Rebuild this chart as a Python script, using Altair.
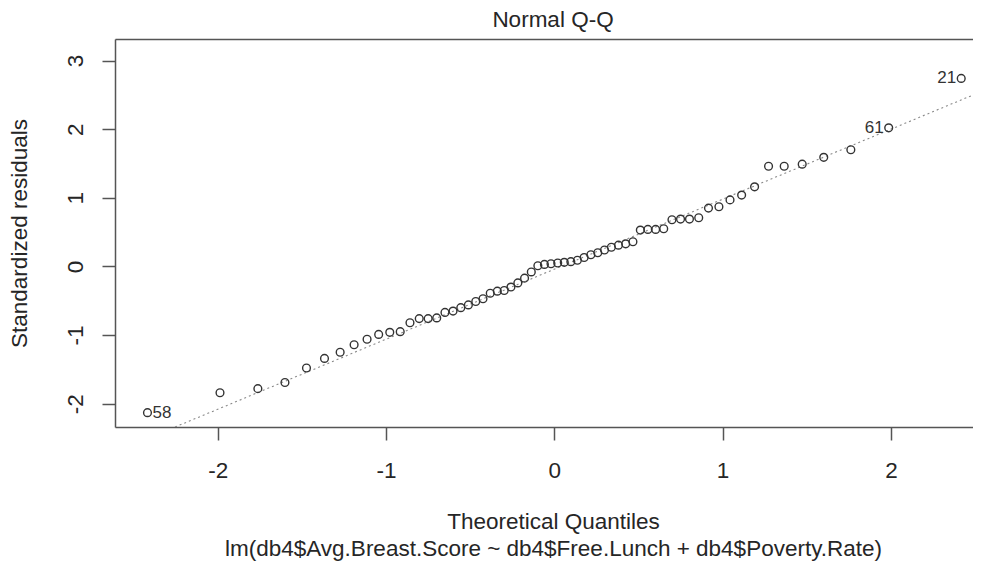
import altair as alt
import pandas as pd

# Theoretical normal quantiles (n = 64), read from the x positions of the points
theoretical = [
    -2.418, -1.987, -1.762, -1.601, -1.473, -1.366, -1.273, -1.190, -1.113, -1.044,
    -0.978, -0.916, -0.858, -0.803, -0.750, -0.699, -0.650, -0.602, -0.556, -0.511,
    -0.467, -0.424, -0.381, -0.339, -0.298, -0.258, -0.217, -0.177, -0.137, -0.098,
    -0.059, -0.020, 0.020, 0.059, 0.098, 0.137, 0.177, 0.217, 0.258, 0.298,
    0.339, 0.381, 0.424, 0.467, 0.511, 0.556, 0.602, 0.650, 0.699, 0.750,
    0.803, 0.858, 0.916, 0.978, 1.044, 1.113, 1.190, 1.273, 1.366, 1.473,
    1.601, 1.762, 1.987, 2.418,
]

# Sorted standardized residuals
residuals = [
    -2.13, -1.84, -1.78, -1.69, -1.48, -1.34, -1.25, -1.14, -1.06, -0.99,
    -0.96, -0.95, -0.82, -0.76, -0.76, -0.75, -0.67, -0.65, -0.60, -0.56,
    -0.51, -0.47, -0.39, -0.36, -0.35, -0.30, -0.24, -0.17, -0.08, 0.01,
    0.03, 0.04, 0.05, 0.06, 0.07, 0.09, 0.13, 0.17, 0.20, 0.24,
    0.28, 0.31, 0.33, 0.36, 0.53, 0.54, 0.54, 0.55, 0.68, 0.69,
    0.69, 0.71, 0.85, 0.87, 0.97, 1.04, 1.16, 1.46, 1.46, 1.49,
    1.59, 1.70, 2.02, 2.74,
]

# Observation ids shown next to the extreme points
labels = [""] * 64
labels[0] = "58"
labels[62] = "61"
labels[63] = "21"
label_side = ["right" if i == 0 else "left" for i in range(64)]

# qqline parameters (intercept, slope)
qq_intercept = -0.04
qq_slope = 1.02
line_ends = [-2.611, 2.488]

df = pd.DataFrame({"q": theoretical, "r": residuals, "id": labels, "side": label_side})
line_df = pd.DataFrame({"x": line_ends})

TXT = "#262626"
AX = "#555555"
FONT = "Liberation Sans"
FS = 22.5

xscale = alt.Scale(domain=[-2.611, 2.488], nice=False, zero=False)
yscale = alt.Scale(domain=[-2.339, 3.314], nice=False, zero=False)

yenc = alt.Y(
    "r:Q", scale=yscale,
    axis=alt.Axis(
        values=[-2, -1, 0, 1, 2, 3], title="Standardized residuals", grid=False,
        labelExpr="'' + datum.value", labelAngle=270, labelAlign="center",
        labelBaseline="middle", labelPadding=27, labelFontSize=FS, labelColor=TXT,
        labelFont=FONT, tickSize=13, tickColor=AX, tickWidth=1.5,
        domainColor=AX, domainWidth=1.5, titleFont=FONT, titleFontSize=FS,
        titleFontWeight="normal", titleColor=TXT,
        titleX=-96, titleY=194, titleAngle=270, titleAlign="center",
        titleBaseline="middle",
    ),
)

points = alt.Chart(df).mark_point(
    shape="circle", filled=False, size=60, strokeWidth=1.4, color="#333333", opacity=1
).encode(
    x=alt.X(
        "q:Q", scale=xscale,
        axis=alt.Axis(
            values=[-2, -1, 0, 1, 2], grid=False, labelExpr="'' + datum.value",
            labelFontSize=FS, labelColor=TXT, labelFont=FONT, labelPadding=19,
            labelBaseline="top",
            tickSize=13, tickColor=AX, tickWidth=1.5, domainColor=AX, domainWidth=1.5,
            title=["Theoretical Quantiles",
                   "lm(db4$Avg.Breast.Score ~ db4$Free.Lunch + db4$Poverty.Rate)"],
            titleFont=FONT, titleFontSize=FS, titleFontWeight="normal", titleColor=TXT,
            titleLineHeight=27.7, titleBaseline="top", titleY=83, titleX=438,
            titleAlign="center",
        ),
    ),
    y=yenc,
)

qqline = alt.Chart(line_df).transform_calculate(
    y=f"{qq_intercept} + {qq_slope} * datum.x"
).mark_line(
    color="#8a8a8a", strokeWidth=1.1, strokeDash=[2, 3], clip=True
).encode(
    x=alt.X(
        "x:Q", scale=xscale,
        axis=alt.Axis(orient="top", labels=False, ticks=False, title=None, grid=False,
                      domainColor=AX, domainWidth=1.5),
    ),
    y=alt.Y("y:Q", scale=yscale),
)

lab_right = alt.Chart(df).transform_filter(
    "datum.id != '' && datum.side == 'right'"
).mark_text(align="left", baseline="middle", dx=5, fontSize=17, font=FONT, color="#333333").encode(
    x=alt.X("q:Q", scale=xscale, axis=None), y=alt.Y("r:Q", scale=yscale), text="id:N"
)

lab_left = alt.Chart(df).transform_filter(
    "datum.id != '' && datum.side == 'left'"
).mark_text(align="right", baseline="middle", dx=-5, fontSize=17, font=FONT, color="#333333").encode(
    x=alt.X("q:Q", scale=xscale, axis=None), y=alt.Y("r:Q", scale=yscale), text="id:N"
)

chart = alt.layer(qqline, points, lab_right, lab_left).resolve_axis(
    x="independent"
).properties(
    width=858, height=388,
    autosize=alt.AutoSizeParams(type="none"),
    padding={"left": 107, "top": 31, "right": 0, "bottom": 134},
    title=alt.TitleParams("Normal Q-Q", font=FONT, fontSize=FS, fontWeight="normal",
                          color=TXT, anchor="middle", dx=9, offset=8),
).configure_view(stroke=None)

chart.save("out.html", embed_options={"renderer": "svg", "actions": False})
